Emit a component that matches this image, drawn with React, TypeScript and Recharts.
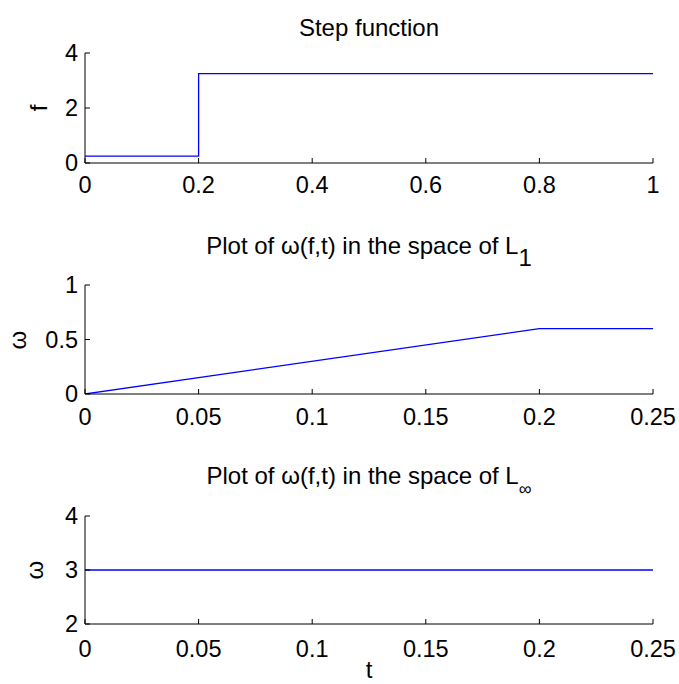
import React from 'react';
import { LineChart, Line, XAxis, YAxis } from 'recharts';

const FONT = '"Liberation Sans", Arial, Helvetica, sans-serif';
const BLUE = '#0000ff';

// step function f(t)
const stepT = [0, 0.2, 0.2, 1];
const stepF = [0.25, 0.25, 3.25, 3.25];
const stepTicksX = [0, 0.2, 0.4, 0.6, 0.8, 1];
const stepTicksY = [0, 2, 4];

// ω(f,t) in L1
const l1T = [0, 0.2, 0.25];
const l1W = [0, 0.6, 0.6];
const l1TicksY = [0, 0.5, 1];

// ω(f,t) in L∞
const linfT = [0, 0.25];
const linfW = [3, 3];
const linfTicksY = [2, 3, 4];

const tTicks = [0, 0.05, 0.1, 0.15, 0.2, 0.25];

const toRows = (xs: number[], ys: number[]) => xs.map((x, i) => ({ x, y: ys[i] }));

interface PanelProps {
  top: number;
  plotHeight: number;
  rows: { x: number; y: number }[];
  xDomain: [number, number];
  xTicks: number[];
  yDomain: [number, number];
  yTicks: number[];
  labelGap: number;
}

const tickStyle = { fontSize: 23.5, fill: '#000', fontFamily: FONT };

const Panel: React.FC<PanelProps> = ({ top, plotHeight, rows, xDomain, xTicks, yDomain, yTicks, labelGap }) => {
  const padTop = 20;
  return (
    <div style={{ position: 'absolute', left: 0, top: top - padTop }}>
      <LineChart
        width={679}
        height={padTop + plotHeight + 50}
        data={rows}
        margin={{ top: padTop, right: 26, bottom: 0, left: 0 }}
      >
        <XAxis
          dataKey="x"
          type="number"
          domain={xDomain}
          ticks={xTicks}
          interval={0}
          height={50}
          tickSize={-5}
          tickMargin={5 + labelGap}
          tick={tickStyle}
          axisLine={{ stroke: '#000' }}
          tickLine={{ stroke: '#000' }}
          allowDataOverflow
        />
        <YAxis
          type="number"
          domain={yDomain}
          ticks={yTicks}
          interval={0}
          width={85}
          tickSize={-5}
          tickMargin={12}
          tick={tickStyle}
          axisLine={{ stroke: '#000' }}
          tickLine={{ stroke: '#000' }}
          allowDataOverflow
        />
        <Line
          dataKey="y"
          type="linear"
          stroke={BLUE}
          strokeWidth={1.3}
          dot={false}
          activeDot={false}
          isAnimationActive={false}
        />
      </LineChart>
    </div>
  );
};

export default function App() {
  return (
    <div style={{ position: 'absolute', left: 0, top: 0, width: 679, height: 684, background: '#fff', fontFamily: FONT }}>
      <Panel
        top={53}
        plotHeight={110}
        rows={toRows(stepT, stepF)}
        xDomain={[0, 1]}
        xTicks={stepTicksX}
        yDomain={[0, 4]}
        yTicks={stepTicksY}
        labelGap={13}
      />
      <Panel
        top={285}
        plotHeight={109}
        rows={toRows(l1T, l1W)}
        xDomain={[0, 0.25]}
        xTicks={tTicks}
        yDomain={[0, 1]}
        yTicks={l1TicksY}
        labelGap={14}
      />
      <Panel
        top={516}
        plotHeight={108}
        rows={toRows(linfT, linfW)}
        xDomain={[0, 0.25]}
        xTicks={tTicks}
        yDomain={[2, 4]}
        yTicks={linfTicksY}
        labelGap={16}
      />
      {/* titles and axis labels */}
      <svg width={679} height={684} style={{ position: 'absolute', left: 0, top: 0, pointerEvents: 'none' }}>
        <g fontFamily={FONT} fontSize={24} fill="#000">
          <text x={369} y={36} textAnchor="middle">Step function</text>
          <text x={369} y={254} textAnchor="middle">
            Plot of ω(f,t) in the space of L<tspan dy={12}>1</tspan>
          </text>
          <text x={369} y={484} textAnchor="middle">
            Plot of ω(f,t) in the space of L<tspan dy={11} fontSize={18}>∞</tspan>
          </text>
          <text x={47} y={108} textAnchor="middle" transform="rotate(-90 47 108)">f</text>
          <text x={26} y={340} textAnchor="middle" transform="rotate(-90 26 340)">ω</text>
          <text x={43} y={570} textAnchor="middle" transform="rotate(-90 43 570)">ω</text>
          <text x={369} y={678} textAnchor="middle">t</text>
        </g>
      </svg>
    </div>
  );
}
